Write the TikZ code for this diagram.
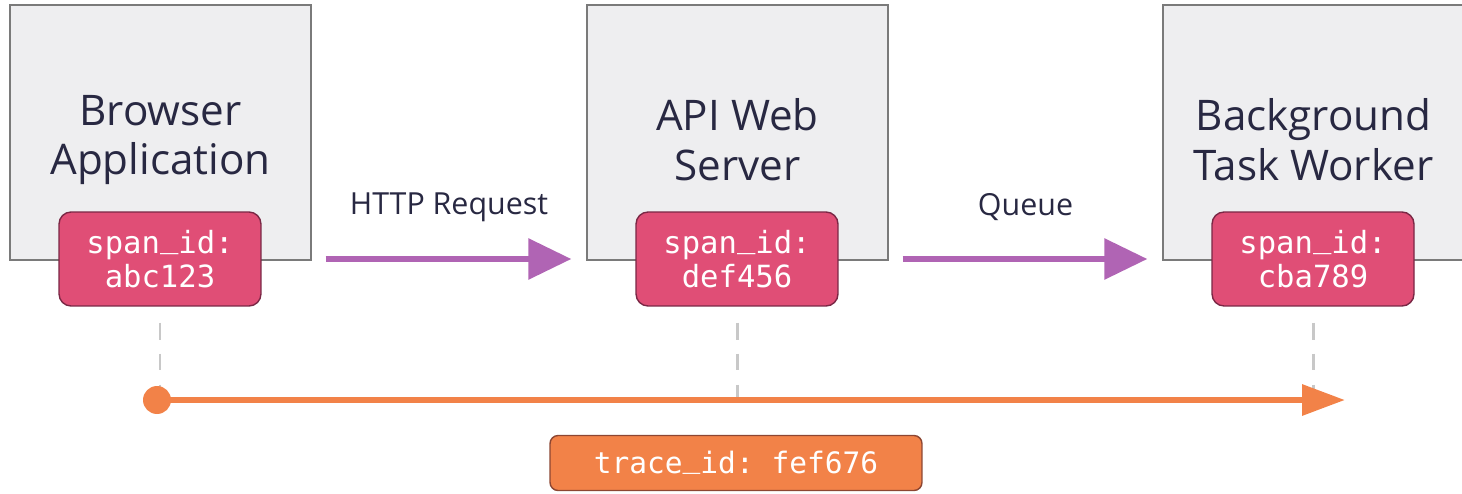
\documentclass[tikz,border=0pt]{standalone}
\usepackage{fontspec}
\setmainfont{Open Sans}
\setmonofont{DejaVu Sans Mono}
\usetikzlibrary{arrows.meta}

\definecolor{boxfill}{RGB}{238,238,240}
\definecolor{boxline}{RGB}{122,122,122}
\definecolor{ink}{RGB}{40,40,66}
\definecolor{spanpink}{RGB}{224,78,118}
\definecolor{spanedge}{RGB}{122,39,69}
\definecolor{hopviolet}{RGB}{176,100,180}
\definecolor{traceorange}{RGB}{242,130,72}
\definecolor{traceedge}{RGB}{140,70,50}
\definecolor{linkgray}{RGB}{200,200,200}

% underscore sitting on the baseline
\newcommand{\idsep}{\raisebox{0.2em}{\_}}

\begin{document}
\begin{tikzpicture}[x=0.02cm, y=-0.02cm]
\tikzstyle{service} = [rectangle, draw=boxline, fill=boxfill, line width=0.8pt, minimum width=6.02cm, minimum height=5.1cm]
\tikzstyle{servicetext} = [align=center, text=ink, yshift=-0.15cm, font=\fontsize{24}{28.3}\selectfont]
\tikzstyle{span} = [rectangle, draw=spanedge, fill=spanpink, line width=0.8pt, rounded corners=0.24cm, minimum width=4.04cm, minimum height=1.88cm, align=center, text=white, font=\ttfamily\fontsize{17.4}{19.3}\selectfont]
\tikzstyle{trace} = [rectangle, draw=traceedge, fill=traceorange, line width=0.8pt, rounded corners=0.16cm, minimum width=7.44cm, minimum height=1.1cm, text=white, font=\ttfamily\fontsize{16.8}{18}\selectfont]
\tikzstyle{hop} = [hopviolet, line width=3.4pt, -{Triangle[length=0.86cm, width=0.8cm]}, shorten <=0.28cm, shorten >=0.3cm]
\tikzstyle{hoplabel} = [midway, yshift=1.04cm, text=ink, font=\fontsize{17.3}{19}\selectfont]
\tikzstyle{link} = [linkgray, line width=1.7pt, dash pattern=on 9.6pt off 8pt, shorten <=0.32cm]
\tikzstyle{tracearrow} = [traceorange, line width=3.6pt, -{Triangle[length=0.86cm, width=0.6cm]}]

\useasboundingbox (0,0) rectangle (1462,493);

% services
\node [service, label={[servicetext]center:Browser\\Application}] (browser) at (160.5,132.5) {};
\node [service, label={[servicetext]center:API Web\\Server}] (api) at (737.5,132.5) {};
\node [service, label={[servicetext]center:Background\\Task Worker}] (worker) at (1313.5,132.5) {};

% span ids
\node [span] (abc) at (160,259) {span\idsep id:\\abc123};
\node [span] (def) at (737,259) {span\idsep id:\\def456};
\node [span] (cba) at (1313,259) {span\idsep id:\\cba789};

% hops between services
\draw [hop] (browser.east |- abc) -- (api.west |- def) node [hoplabel] {HTTP Request};
\draw [hop] (api.east |- def) -- (worker.west |- cba) node [hoplabel] {Queue};

% trace line
\coordinate (tstart) at (157,400);
\coordinate (tend) at (1345,400);
\draw [link] (abc.south) -- (abc.south |- tstart);
\draw [link] (def.south) -- (def.south |- tstart);
\draw [link] (cba.south) -- (cba.south |- tstart);
\draw [tracearrow] (tstart) -- (tend);
\fill [traceorange] (tstart) circle (0.28cm);

\node [trace] (traceid) at (736,463) {trace\idsep id: fef676};
\end{tikzpicture}
\end{document}
